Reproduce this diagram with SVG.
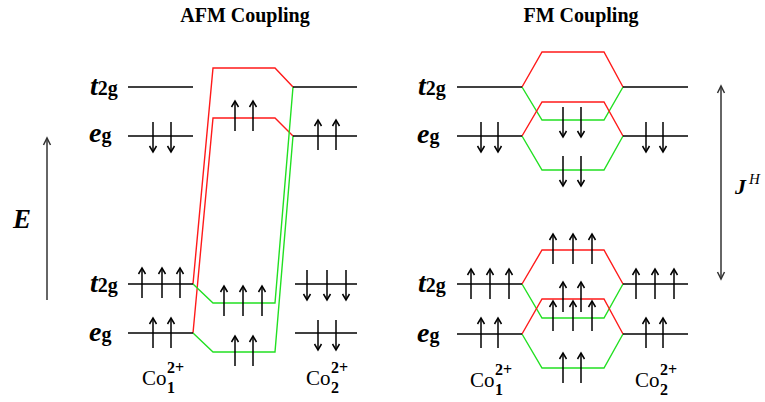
<svg xmlns="http://www.w3.org/2000/svg" xmlns:xlink="http://www.w3.org/1999/xlink" width="765" height="402" viewBox="0 0 765 402">
<style>
.lv{stroke:#000;stroke-width:1.5;fill:none}
.r{stroke:#ff1a1a;stroke-width:1.4;fill:none}
.g{stroke:#22e022;stroke-width:1.4;fill:none}
.ax{stroke:#333;stroke-width:1.5;fill:none}
.el{stroke:#000;stroke-width:1.5;fill:none}
text{font-family:'Liberation Serif','Times New Roman','DejaVu Serif',serif;fill:#000}
.ttl{font-weight:bold;font-size:20px}
.big{font-weight:bold;font-style:italic;font-size:28px}
.sm{font-weight:bold;font-style:normal;font-size:20px}
.co{font-size:21px}
.cs{font-weight:bold;font-size:16px}
.sym{font-weight:bold;font-style:italic}
</style>
<defs>
<g id="up" class="el"><line x1="0" y1="15" x2="0" y2="-15"/><polyline points="-3.5,-9 0,-15 3.5,-9"/></g>
<g id="dn" class="el"><line x1="0" y1="-15" x2="0" y2="15"/><polyline points="-3.5,9 0,15 3.5,9"/></g>
</defs>
<rect width="765" height="402" fill="#fff"/>

<g id="titles">
<text class="ttl" x="245" y="22" text-anchor="middle" font-family="Liberation Serif, serif">AFM Coupling</text>
<text class="ttl" x="581" y="22" text-anchor="middle" font-family="Liberation Serif, serif">FM Coupling</text>
</g>

<g id="energy-axis">
<line class="ax" x1="47" y1="300" x2="47" y2="138"/>
<polyline class="ax" points="43.5,145 47,138 50.5,145"/>
<text class="sym" x="22" y="228" font-size="27" text-anchor="middle" font-family="Liberation Serif, serif">E</text>
</g>

<g id="hund-axis">
<line class="ax" x1="721" y1="86" x2="721" y2="279"/>
<polyline class="ax" points="717.5,93 721,86 724.5,93"/>
<polyline class="ax" points="717.5,272 721,279 724.5,272"/>
<text class="sym" x="735" y="194" font-size="22" font-family="Liberation Serif, serif">J</text>
<text x="749" y="184" font-size="15" font-style="italic" font-family="Liberation Serif, serif">H</text>
</g>

<g id="connectors">
<path class="r" d="M193,284 L213,68 L275,68 L293,87"/>
<path class="r" d="M193,333 L213,118 L275,118 L293,136"/>
<path class="g" d="M193,284 L213,303 L275,303 L293,87"/>
<path class="g" d="M193,333 L213,352 L275,352 L293,136"/>
<path class="g" d="M522,87 L542,120 L604,120 L623,87"/>
<path class="g" d="M522,136 L542,170 L604,170 L623,136"/>
<path class="r" d="M522,87 L542,52 L604,52 L623,87"/>
<path class="r" d="M522,136 L542,102 L604,102 L623,136"/>
<path class="g" d="M522,284 L542,318 L604,318 L623,284"/>
<path class="g" d="M522,334 L542,368 L604,368 L623,334"/>
<path class="r" d="M522,284 L542,250 L604,250 L623,284"/>
<path class="r" d="M522,334 L542,299 L604,299 L623,334"/>
</g>

<g id="afm-left-top" font-family="Liberation Serif, serif">
<text class="big" x="90" y="95">t<tspan class="sm">2g</tspan></text>
<line class="lv" x1="128" y1="87" x2="193" y2="87"/>
<text class="big" x="89" y="142">e<tspan class="sm">g</tspan></text>
<line class="lv" x1="128" y1="136" x2="193" y2="136"/>
<use xlink:href="#dn" x="153" y="137"/><use xlink:href="#dn" x="171" y="137"/>
</g>
<g id="afm-right-top">
<line class="lv" x1="293" y1="87" x2="357" y2="87"/>
<line class="lv" x1="293" y1="136" x2="357" y2="136"/>
<use xlink:href="#up" x="318" y="135"/><use xlink:href="#up" x="336" y="135"/>
</g>
<g id="afm-mid-top">
<use xlink:href="#up" x="235" y="116"/><use xlink:href="#up" x="253" y="116"/>
</g>
<g id="afm-left-bottom" font-family="Liberation Serif, serif">
<text class="big" x="90" y="292">t<tspan class="sm">2g</tspan></text>
<line class="lv" x1="128" y1="284" x2="193" y2="284"/>
<use xlink:href="#up" x="142" y="283"/><use xlink:href="#up" x="162" y="283"/><use xlink:href="#up" x="180" y="283"/>
<text class="big" x="89" y="341">e<tspan class="sm">g</tspan></text>
<line class="lv" x1="128" y1="333" x2="193" y2="333"/>
<use xlink:href="#up" x="153" y="333"/><use xlink:href="#up" x="171" y="333"/>
</g>
<g id="afm-mid-bottom">
<use xlink:href="#up" x="224" y="301"/><use xlink:href="#up" x="243" y="301"/><use xlink:href="#up" x="262" y="301"/>
<use xlink:href="#up" x="235" y="351"/><use xlink:href="#up" x="253" y="351"/>
</g>
<g id="afm-right-bottom">
<line class="lv" x1="295" y1="284" x2="357" y2="284"/>
<use xlink:href="#dn" x="307" y="285"/><use xlink:href="#dn" x="327" y="285"/><use xlink:href="#dn" x="346" y="285"/>
<line class="lv" x1="295" y1="333" x2="357" y2="333"/>
<use xlink:href="#dn" x="318" y="335"/><use xlink:href="#dn" x="336" y="335"/>
</g>
<g id="afm-co1" font-family="Liberation Serif, serif">
<text class="co" x="142" y="385">Co</text>
<text class="cs" x="167" y="373">2+</text>
<text class="cs" x="167" y="393">1</text>
</g>
<g id="afm-co2" font-family="Liberation Serif, serif">
<text class="co" x="306" y="385">Co</text>
<text class="cs" x="331" y="373">2+</text>
<text class="cs" x="331" y="393">2</text>
</g>

<g id="fm-left-top" font-family="Liberation Serif, serif">
<text class="big" x="418" y="95">t<tspan class="sm">2g</tspan></text>
<line class="lv" x1="457" y1="87" x2="522" y2="87"/>
<text class="big" x="417" y="143">e<tspan class="sm">g</tspan></text>
<line class="lv" x1="457" y1="136" x2="522" y2="136"/>
<use xlink:href="#dn" x="481" y="137"/><use xlink:href="#dn" x="498" y="137"/>
</g>
<g id="fm-mid-top">
<use xlink:href="#dn" x="563" y="122"/><use xlink:href="#dn" x="581" y="122"/>
<use xlink:href="#dn" x="563" y="171"/><use xlink:href="#dn" x="581" y="171"/>
</g>
<g id="fm-right-top">
<line class="lv" x1="623" y1="87" x2="688" y2="87"/>
<line class="lv" x1="623" y1="136" x2="688" y2="136"/>
<use xlink:href="#dn" x="646" y="137"/><use xlink:href="#dn" x="663" y="137"/>
</g>
<g id="fm-left-bottom" font-family="Liberation Serif, serif">
<text class="big" x="418" y="292">t<tspan class="sm">2g</tspan></text>
<line class="lv" x1="457" y1="284" x2="522" y2="284"/>
<use xlink:href="#up" x="471" y="284"/><use xlink:href="#up" x="490" y="284"/><use xlink:href="#up" x="509" y="284"/>
<text class="big" x="417" y="342">e<tspan class="sm">g</tspan></text>
<line class="lv" x1="457" y1="334" x2="522" y2="334"/>
<use xlink:href="#up" x="481" y="333"/><use xlink:href="#up" x="498" y="333"/>
</g>
<g id="fm-mid-bottom">
<use xlink:href="#up" x="553" y="249"/><use xlink:href="#up" x="573" y="249"/><use xlink:href="#up" x="592" y="249"/>
<use xlink:href="#up" x="563" y="297"/><use xlink:href="#up" x="581" y="297"/>
<use xlink:href="#up" x="553" y="316"/><use xlink:href="#up" x="573" y="316"/><use xlink:href="#up" x="592" y="316"/>
<use xlink:href="#up" x="563" y="368"/><use xlink:href="#up" x="581" y="368"/>
</g>
<g id="fm-right-bottom">
<line class="lv" x1="623" y1="284" x2="688" y2="284"/>
<use xlink:href="#up" x="636" y="284"/><use xlink:href="#up" x="655" y="284"/><use xlink:href="#up" x="674" y="284"/>
<line class="lv" x1="623" y1="334" x2="688" y2="334"/>
<use xlink:href="#up" x="646" y="333"/><use xlink:href="#up" x="663" y="333"/>
</g>
<g id="fm-co1" font-family="Liberation Serif, serif">
<text class="co" x="470" y="387">Co</text>
<text class="cs" x="495" y="375">2+</text>
<text class="cs" x="495" y="395">1</text>
</g>
<g id="fm-co2" font-family="Liberation Serif, serif">
<text class="co" x="635" y="387">Co</text>
<text class="cs" x="660" y="375">2+</text>
<text class="cs" x="660" y="395">2</text>
</g>
</svg>
